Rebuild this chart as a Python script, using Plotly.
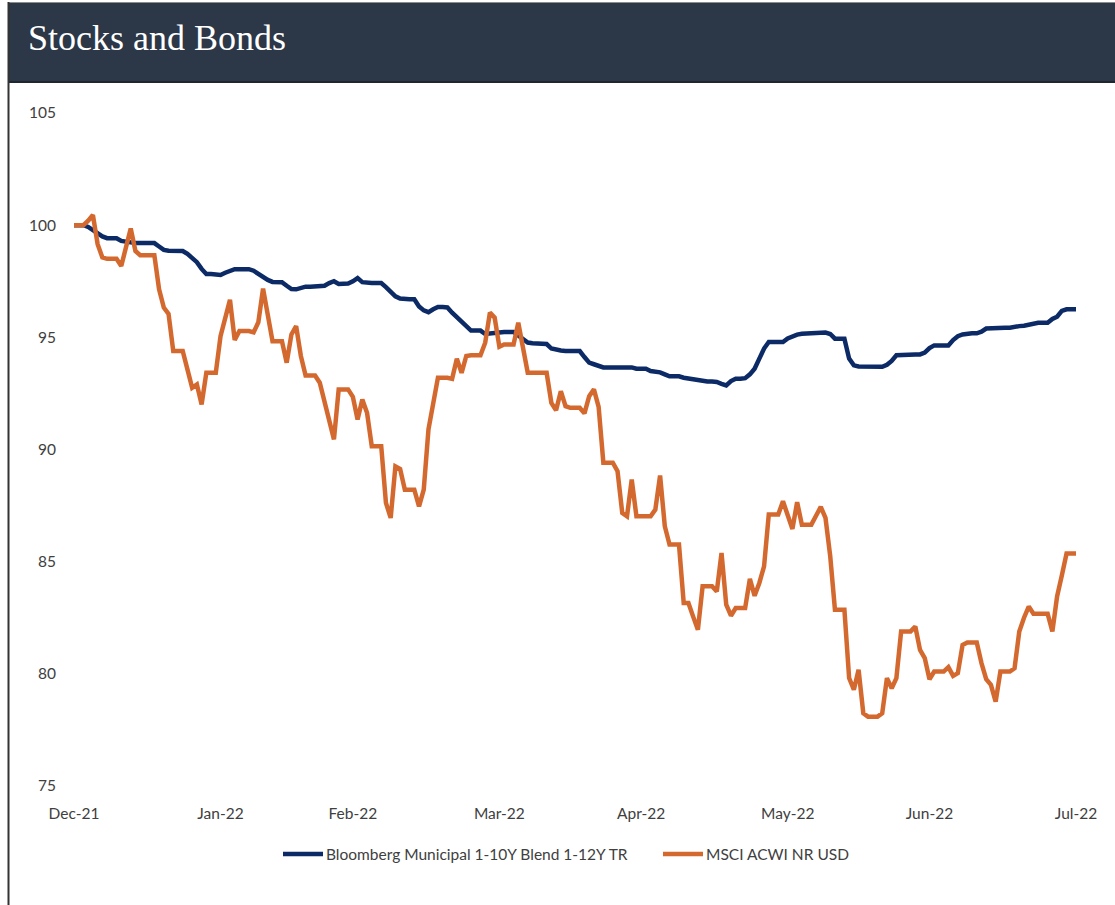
import pandas as pd
import plotly.graph_objects as go

# ---------------------------------------------------------------
# Data: daily index levels (rebased to 100 on 31-Dec-2021).
# One line per week, Friday -> Thursday; weekends carry the
# Friday close, as in the source series.
# ---------------------------------------------------------------
start_date = "2021-12-31"
end_date = "2022-07-31"

series_names = [
    "Bloomberg Municipal 1-10Y Blend 1-12Y TR",
    "MSCI ACWI NR USD",
]

muni = [
    100.0, 100.0, 100.0, 99.92, 99.78, 99.62, 99.5,      # Dec 31 - Jan 6
    99.42, 99.42, 99.42, 99.3, 99.25, 99.22, 99.2,       # Jan 7 - 13
    99.2, 99.2, 99.2, 99.2, 99.05, 98.9, 98.86,          # Jan 14 - 20
    98.85, 98.85, 98.85, 98.72, 98.5, 98.35, 98.05,      # Jan 21 - 27
    97.82, 97.82, 97.82, 97.78, 97.88, 97.98, 98.04,     # Jan 28 - Feb 3
    98.04, 98.04, 98.04, 97.97, 97.82, 97.7, 97.56,      # Feb 4 - 10
    97.47, 97.47, 97.46, 97.3, 97.15, 97.14, 97.2,       # Feb 11 - 17
    97.26, 97.26, 97.26, 97.27, 97.3, 97.42, 97.5,       # Feb 18 - 24
    97.38, 97.38, 97.4, 97.5, 97.64, 97.46, 97.42,       # Feb 25 - Mar 3
    97.42, 97.42, 97.42, 97.24, 97.02, 96.83, 96.73,     # Mar 4 - 10
    96.7, 96.7, 96.7, 96.38, 96.2, 96.12, 96.25,         # Mar 11 - 17
    96.35, 96.35, 96.33, 96.1, 95.9, 95.73, 95.5,        # Mar 18 - 24
    95.3, 95.3, 95.3, 95.15, 95.17, 95.24, 95.24,        # Mar 25 - 31
    95.24, 95.24, 95.24, 95.08, 94.95, 94.77, 94.74,     # Apr 1 - 7
    94.72, 94.72, 94.7, 94.5, 94.44, 94.41, 94.39,       # Apr 8 - 14
    94.39, 94.39, 94.39, 94.12, 93.87, 93.8, 93.72,      # Apr 15 - 21
    93.66, 93.66, 93.66, 93.66, 93.68, 93.7, 93.66,      # Apr 22 - 28
    93.6, 93.6, 93.6, 93.5, 93.47, 93.44, 93.35,         # Apr 29 - May 5
    93.26, 93.26, 93.26, 93.2, 93.16, 93.12, 93.06,      # May 6 - 12
    93.03, 93.03, 93.03, 93.01, 92.93, 92.86, 93.05,     # May 13 - 19
    93.15, 93.15, 93.18, 93.35, 93.6, 94.05, 94.5,       # May 20 - 26
    94.79, 94.79, 94.79, 94.79, 94.95, 95.06, 95.12,     # May 27 - Jun 2
    95.16, 95.16, 95.16, 95.16, 95.17, 95.21, 95.15,     # Jun 3 - 9
    94.94, 94.94, 94.94, 94.05, 93.75, 93.7, 93.69,      # Jun 10 - 16
    93.69, 93.69, 93.69, 93.69, 93.78, 93.95, 94.2,      # Jun 17 - 23
    94.22, 94.22, 94.22, 94.24, 94.24, 94.32, 94.52,     # Jun 24 - 30
    94.64, 94.64, 94.64, 94.64, 94.88, 95.05, 95.13,     # Jul 1 - 7
    95.18, 95.18, 95.18, 95.25, 95.39, 95.41, 95.42,     # Jul 8 - 14
    95.43, 95.43, 95.43, 95.48, 95.5, 95.52, 95.56,      # Jul 15 - 21
    95.65, 95.65, 95.65, 95.65, 95.82, 95.92, 96.18,     # Jul 22 - 28
    96.25, 96.25, 96.25,                                 # Jul 29 - 31
]

msci = [
    100.0, 100.0, 100.0, 100.2, 100.45, 99.15, 98.56,    # Dec 31 - Jan 6
    98.5, 98.5, 98.5, 98.18, 99.05, 99.85, 98.85,        # Jan 7 - 13
    98.66, 98.66, 98.66, 98.66, 97.14, 96.33, 96.05,     # Jan 14 - 20
    94.39, 94.39, 94.39, 93.57, 92.75, 92.9, 92.01,      # Jan 21 - 27
    93.42, 93.42, 93.42, 95.05, 95.8, 96.67, 94.88,      # Jan 28 - Feb 3
    95.28, 95.28, 95.28, 95.22, 95.67, 97.17, 96.1,      # Feb 4 - 10
    94.83, 94.83, 94.83, 93.87, 95.13, 95.5, 94.17,      # Feb 11 - 17
    93.3, 93.3, 93.3, 92.98, 92.1, 91.4, 90.45,          # Feb 18 - 24
    92.68, 92.68, 92.68, 92.35, 91.34, 92.23, 91.64,     # Feb 25 - Mar 3
    90.15, 90.15, 90.15, 87.62, 86.95, 89.25, 89.13,     # Mar 4 - 10
    88.21, 88.21, 88.21, 87.47, 88.21, 90.9, 92.0,       # Mar 11 - 17
    93.2, 93.2, 93.2, 93.15, 94.05, 93.42, 94.17,        # Mar 18 - 24
    94.2, 94.2, 94.2, 94.76, 96.1, 95.88, 94.58,         # Mar 25 - 31
    94.68, 94.68, 94.68, 95.65, 94.5, 93.42, 93.42,      # Apr 1 - 7
    93.42, 93.42, 93.42, 92.08, 91.75, 92.6, 91.93,      # Apr 8 - 14
    91.86, 91.86, 91.86, 91.61, 92.38, 92.68, 91.9,      # Apr 15 - 21
    89.41, 89.41, 89.41, 89.03, 87.17, 87.02, 88.66,     # Apr 22 - 28
    87.02, 87.02, 87.02, 87.02, 87.32, 88.84, 86.58,     # Apr 29 - May 5
    85.76, 85.76, 85.76, 83.16, 83.16, 82.55, 81.96,     # May 6 - 12
    83.9, 83.9, 83.9, 83.67, 85.39, 83.08, 82.59,        # May 13 - 19
    82.93, 82.93, 82.93, 84.23, 83.48, 84.05, 84.79,     # May 20 - 26
    87.1, 87.1, 87.1, 87.69, 87.02, 86.46, 87.65,        # May 27 - Jun 2
    86.65, 86.65, 86.65, 87.05, 87.44, 86.95, 85.24,     # Jun 3 - 9
    82.86, 82.86, 82.86, 79.81, 79.29, 80.18, 78.24,     # Jun 10 - 16
    78.09, 78.09, 78.09, 78.24, 79.81, 79.36, 79.81,     # Jun 17 - 23
    81.89, 81.89, 81.89, 82.11, 81.07, 80.7, 79.76,      # Jun 24 - 30
    80.1, 80.1, 80.1, 80.3, 79.91, 80.03, 81.29,         # Jul 1 - 7
    81.4, 81.4, 81.4, 80.48, 79.76, 79.51, 78.76,        # Jul 8 - 14
    80.1, 80.1, 80.1, 80.25, 81.89, 82.5, 83.0,          # Jul 15 - 21
    82.68, 82.68, 82.68, 82.68, 81.89, 83.45, 84.38,     # Jul 22 - 28
    85.36, 85.36, 85.36,                                 # Jul 29 - 31
]

# month-end ticks, labelled by month
tick_dates = ["2021-12-31", "2022-01-31", "2022-02-28", "2022-03-31",
              "2022-04-30", "2022-05-31", "2022-06-30", "2022-07-31"]
tick_labels = ["Dec-21", "Jan-22", "Feb-22", "Mar-22",
               "Apr-22", "May-22", "Jun-22", "Jul-22"]
y_ticks = [75, 80, 85, 90, 95, 100, 105]

dates = pd.date_range(start_date, end_date, freq="D")
assert len(dates) == len(muni) == len(msci)

# ---------------------------------------------------------------
# Styling / geometry
# ---------------------------------------------------------------
W, H = 1115, 905
ML, MR, MT, MB = 74, 39, 113, 119
PW, PH = W - ML - MR, H - MT - MB

NAVY = "#0B2A66"
ORANGE = "#D4692F"
HEADER = "#2C3747"
TEXT = "#404040"
SANS = "Lato, 'Liberation Sans', Arial, sans-serif"
SERIF = "'Liberation Serif', 'DejaVu Serif', serif"
colors = [NAVY, ORANGE]


def px_x(x):
    return (x - ML) / PW


def px_y(y):
    return (H - MB - y) / PH


fig = go.Figure()
for name, vals, col in zip(series_names, [muni, msci], colors):
    fig.add_trace(go.Scatter(
        x=dates, y=vals, name=name, mode="lines",
        line=dict(color=col, width=4.5),
    ))

shapes = [
    # header band
    dict(type="rect", xref="paper", yref="paper",
         x0=px_x(9), x1=px_x(W + 5), y0=px_y(82), y1=px_y(3),
         fillcolor=HEADER, line=dict(width=0), layer="below"),
    # header top edge
    dict(type="line", xref="paper", yref="paper",
         x0=px_x(8), x1=px_x(W + 5), y0=px_y(2.5), y1=px_y(2.5),
         line=dict(color="#8C8C8C", width=1)),
    # header bottom edge
    dict(type="line", xref="paper", yref="paper",
         x0=px_x(8), x1=px_x(W + 5), y0=px_y(82), y1=px_y(82),
         line=dict(color="#1E2630", width=2)),
    # left frame edge
    dict(type="line", xref="paper", yref="paper",
         x0=px_x(8.5), x1=px_x(8.5), y0=px_y(2), y1=px_y(H + 5),
         line=dict(color="#333333", width=2)),
]

annotations = [
    dict(text="Stocks and Bonds", xref="paper", yref="paper",
         x=px_x(26), y=px_y(38), xanchor="left", yanchor="middle",
         showarrow=False, font=dict(family=SERIF, size=36, color="white")),
]

# legend row drawn below the axis
legend_items = [(283, 323), (663, 703)]
for (lx0, lx1), name, col in zip(legend_items, series_names, colors):
    shapes.append(dict(type="line", xref="paper", yref="paper",
                       x0=px_x(lx0), x1=px_x(lx1), y0=px_y(854), y1=px_y(854),
                       line=dict(color=col, width=4.5)))
    annotations.append(dict(text=name, xref="paper", yref="paper",
                            x=px_x(lx1 + 1), y=px_y(854),
                            xanchor="left", yanchor="middle", showarrow=False,
                            font=dict(family=SANS, size=15.5, color=TEXT)))

fig.update_layout(
    width=W, height=H,
    margin=dict(l=ML, r=MR, t=MT, b=MB, pad=0),
    paper_bgcolor="white", plot_bgcolor="white",
    showlegend=False,
    shapes=shapes,
    annotations=annotations,
    font=dict(family=SANS, size=15.5, color=TEXT),
    xaxis=dict(
        type="date", range=[start_date, end_date],
        tickmode="array", tickvals=tick_dates, ticktext=tick_labels,
        showgrid=False, zeroline=False, showline=False, ticks="",
        ticklabelstandoff=16, automargin=False,
    ),
    yaxis=dict(
        range=[75, 105], tickmode="array", tickvals=y_ticks,
        showgrid=False, zeroline=False, showline=False, ticks="",
        ticklabelstandoff=17, automargin=False,
    ),
)

fig.write_html("out.html")
